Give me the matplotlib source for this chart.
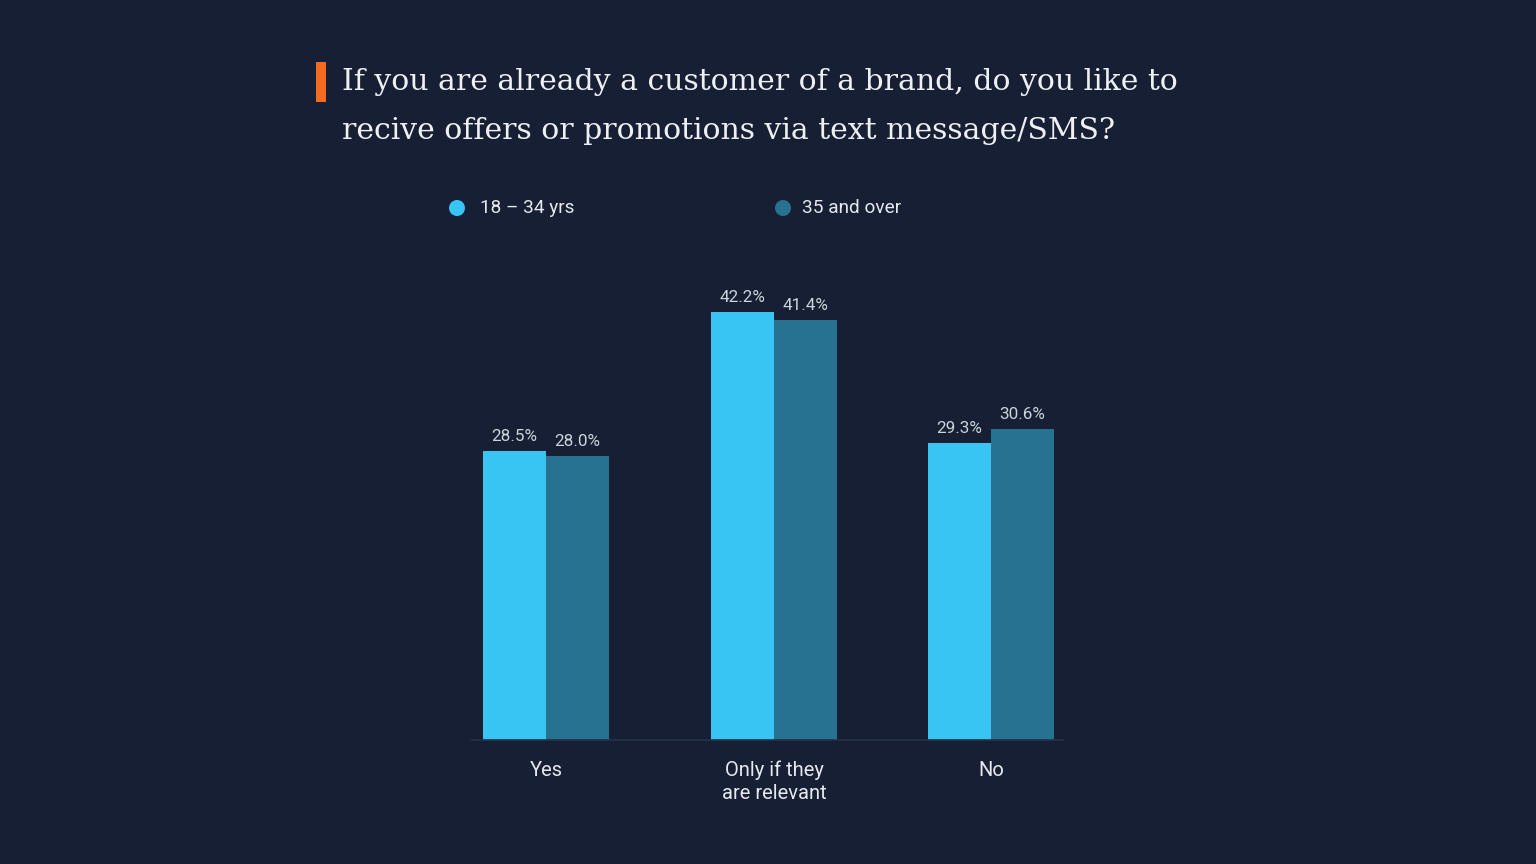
import matplotlib
matplotlib.use("Agg")
import matplotlib.pyplot as plt
from matplotlib.patches import Rectangle, Circle

categories = ["Yes", "Only if they\nare relevant", "No"]
series_names = ["18 – 34 yrs", "35 and over"]
young = [28.5, 42.2, 29.3]
older = [28.0, 41.4, 30.6]
title_lines = ["If you are already a customer of a brand, do you like to",
               "recive offers or promotions via text message/SMS?"]

BG = "#161f33"
C1 = "#38c5f3"
C2 = "#287291"
ORANGE = "#f26b21"
TXT = "#e6e9ee"
LBL = "#cdd3db"

W, H = 1536, 864
fig = plt.figure(figsize=(W / 100, H / 100), dpi=100, facecolor=BG)

# bar axes in pixel layout
ax_left, ax_right = 472, 1063
ax_bottom_px, ax_top_px = 740, 240
ax = fig.add_axes([ax_left / W, 1 - ax_bottom_px / H,
                   (ax_right - ax_left) / W, (ax_bottom_px - ax_top_px) / H])
ax.set_facecolor(BG)
unit = 228.0
centers = [0.0, 1.0, (991 - 546) / unit]
bw = 63 / unit
ax.set_xlim((ax_left - 546) / unit, (ax_right - 546) / unit)
px_per_pct = 10.15
ax.set_ylim(0, (ax_bottom_px - ax_top_px) / px_per_pct)

xs1 = [c - bw / 2 for c in centers]
xs2 = [c + bw / 2 for c in centers]
ax.bar(xs1, young, width=bw, color=C1, linewidth=0)
ax.bar(xs2, older, width=bw, color=C2, linewidth=0)
for x, v in list(zip(xs1, young)) + list(zip(xs2, older)):
    ax.annotate(f"{v:.1f}%", (x, v), xytext=(0, 5), textcoords="offset points",
                ha="center", va="bottom", color=LBL, fontsize=12.3, family="Roboto")

for s in ["top", "right", "left"]:
    ax.spines[s].set_visible(False)
ax.spines["bottom"].set_color("#25324a")
ax.spines["bottom"].set_linewidth(1.2)
ax.set_yticks([])
ax.set_xticks(centers)
ax.set_xticklabels(categories, color=TXT, fontsize=14.5, family="Roboto",
                   linespacing=1.25)
ax.tick_params(axis="x", length=0, pad=15)

# overlay in pixel coordinates
ov = fig.add_axes([0, 0, 1, 1], facecolor="none")
ov.set_xlim(0, W)
ov.set_ylim(H, 0)
ov.axis("off")
ov.add_patch(Rectangle((316, 62), 10, 40, color=ORANGE, lw=0))
ov.text(342, 82, title_lines[0], fontsize=21.5, family="DejaVu Serif",
        color="#eef0f3", va="center", ha="left")
ov.text(342, 131, title_lines[1], fontsize=21.5, family="DejaVu Serif",
        color="#eef0f3", va="center", ha="left")

for cx, tx, col, name in [(457, 480, C1, series_names[0]), (783, 802, C2, series_names[1])]:
    ov.add_patch(Circle((cx, 208), 8, color=col, lw=0))
    ov.text(tx, 208, name, fontsize=13.7, family="Roboto", color=TXT,
            va="center", ha="left")

fig.savefig("out.png", dpi=100, facecolor=BG)
